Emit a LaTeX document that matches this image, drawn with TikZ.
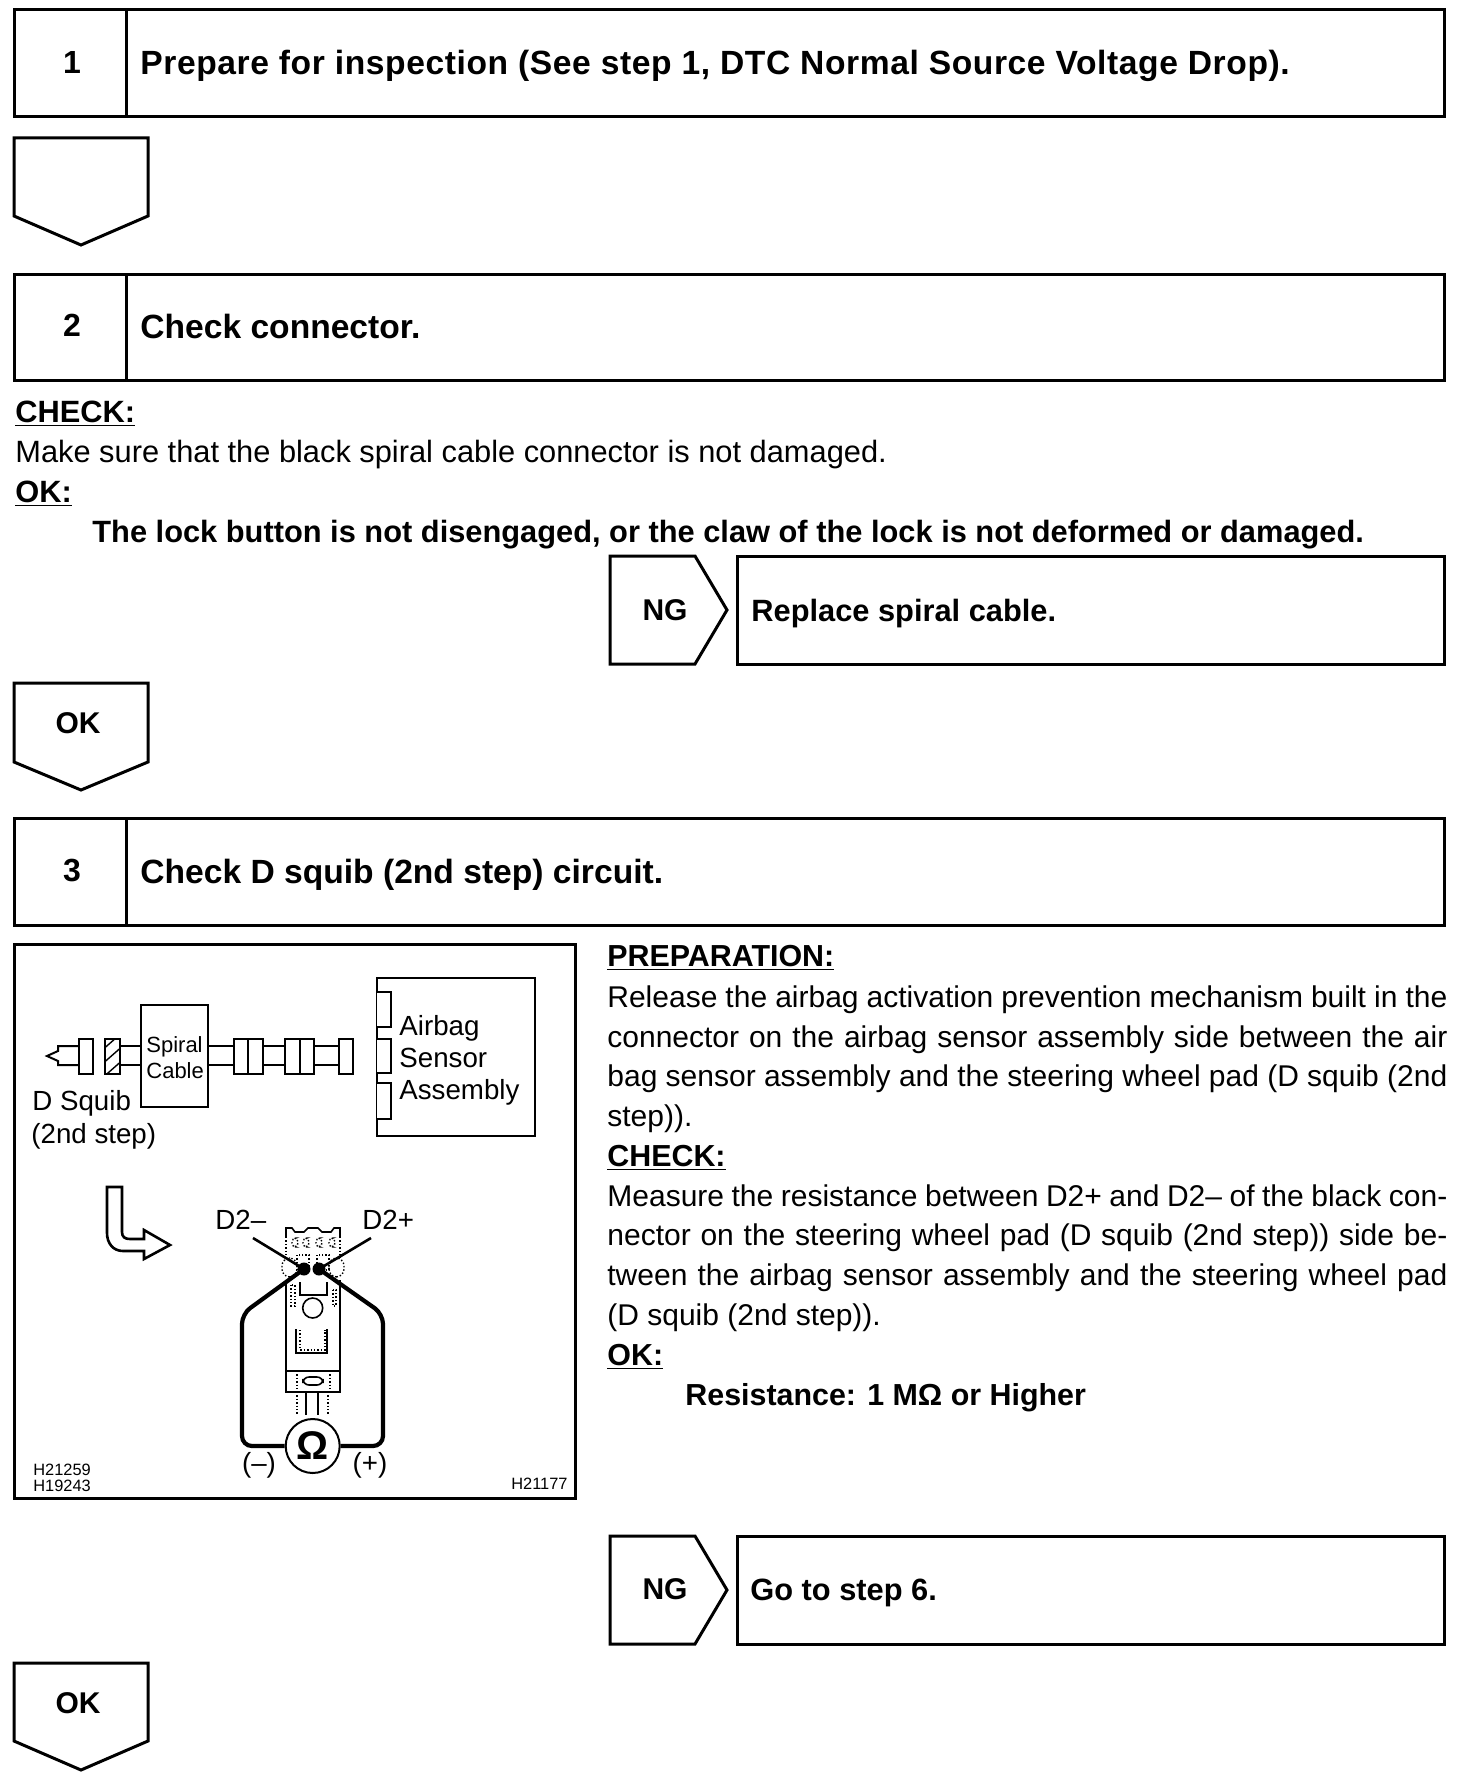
\documentclass[tikz,border=0pt]{standalone}
\usepackage{fontspec}
\setmainfont{Liberation Sans}
\tikzset{
 x=0.5pt,y=-0.5pt,
 frame/.style={draw=black,line width=1.5pt,fill=white,line join=miter},
 stepnum/.style={font=\fontsize{16}{18}\selectfont\bfseries,anchor=center},
 title/.style={font=\fontsize{16.8}{18}\selectfont\bfseries,anchor=base west,inner sep=0pt},
 sub/.style={font=\fontsize{15.4}{18}\selectfont\bfseries,anchor=base west,inner sep=0pt},
 flag/.style={font=\fontsize{15}{18}\selectfont\bfseries,anchor=center},
 bodyl/.style={font=\fontsize{15.4}{18}\selectfont,anchor=base west,inner sep=0pt},
 bodylb/.style={font=\fontsize{15.4}{18}\selectfont\bfseries,anchor=base west,inner sep=0pt},
 body/.style={font=\fontsize{15}{18}\selectfont,anchor=base west,inner sep=0pt},
 bodyb/.style={font=\fontsize{15.2}{18}\selectfont\bfseries,anchor=base west,inner sep=0pt},
 fig/.style={font=\fontsize{13.85}{16}\selectfont,anchor=west,inner sep=0pt},
 figs/.style={font=\fontsize{11}{13}\selectfont,anchor=west,inner sep=0pt},
 code/.style={font=\fontsize{8.2}{9}\selectfont,anchor=west,inner sep=0pt},
 part/.style={draw=black,line width=1pt,fill=white},
 wire/.style={draw=black,line width=1pt},
 lead/.style={draw=black,line width=1.3pt},
 probe/.style={draw=black,line width=2.1pt,rounded corners=5pt},
 dots/.style={draw=black,line width=0.7pt,densely dotted},
 thinpart/.style={draw=black,line width=0.8pt},
}
\newcommand{\ul}[1]{\underline{#1}}
\newcommand{\just}[1]{\hbox to 420pt{#1}}
\begin{document}
\begin{tikzpicture}
\useasboundingbox (0,0) rectangle (1456,1782);
\fill[white] (0,0) rectangle (1456,1782);
% step boxes
\draw[frame] (14,10) rectangle (1444,117);
\draw[frame] (126,10) -- (126,117);
\node[stepnum] (n1) at (72,62) {1};
\node[title] (t1) at (140,75) {\addfontfeature{LetterSpace=1.75}Prepare for inspection (See step 1, DTC Normal Source Voltage Drop).};
\draw[frame] (14,138) -- (148,138) -- (148,216) -- (81,245) -- (14,216) -- cycle;
\draw[frame] (14,274) rectangle (1444,380);
\draw[frame] (126,274) -- (126,380);
\node[stepnum] (n2) at (72,325) {2};
\node[title] (t2) at (140,338) {Check connector.};
\node[bodylb] (c1) at (15,422) {\ul{CHECK:}};
\node[bodyl] (c2) at (15,462) {Make sure that the black spiral cable connector is not damaged.};
\node[bodylb] (c3) at (15,502) {\ul{OK:}};
\node[bodylb] (c4) at (92,542) {The lock button is not disengaged, or the claw of the lock is not deformed or damaged.};
\draw[frame] (610,556) -- (695,556) -- (727,610) -- (695,664) -- (610,664) -- cycle;
\node[flag] (ng1) at (665,610) {NG};
\draw[frame] (737,556) rectangle (1444,664);
\node[sub] (r1) at (751,621) {Replace spiral cable.};
\draw[frame] (14,683) -- (148,683) -- (148,762) -- (81,790) -- (14,762) -- cycle;
\node[flag] (ok1) at (78,723) {OK};
\draw[frame] (14,818) rectangle (1444,925);
\draw[frame] (126,818) -- (126,925);
\node[stepnum] (n3) at (72,870) {3};
\node[title] (t3) at (140,883) {Check D squib (2nd step) circuit.};
% text
\node[bodyb] (p0) at (607,966) {\ul{PREPARATION:}};
\node[body] (p1) at (607,1007) {\just{Release the airbag activation prevention mechanism built in the}};
\node[body] (p2) at (607,1047) {\just{connector on the airbag sensor assembly side between the air}};
\node[body] (p3) at (607,1086) {\just{bag sensor assembly and the steering wheel pad (D squib (2nd}};
\node[body] (p4) at (607,1126) {step)).};
\node[bodyb] (p5) at (607,1166) {\ul{CHECK:}};
\node[body] (p6) at (607,1206) {\just{Measure the resistance between D2+ and D2– of the black con-}};
\node[body] (p7) at (607,1245) {\just{nector on the steering wheel pad (D squib (2nd step)) side be-}};
\node[body] (p8) at (607,1285) {\just{tween the airbag sensor assembly and the steering wheel pad}};
\node[body] (p9) at (607,1325) {(D squib (2nd step)).};
\node[bodyb] (p10) at (607,1365) {\ul{OK:}};
\node[bodyb] (p11) at (685,1405) {Resistance: 1 MΩ or Higher};
\draw[frame] (610,1536) -- (695,1536) -- (727,1590) -- (695,1644) -- (610,1644) -- cycle;
\node[flag] (ng2) at (665,1589) {NG};
\draw[frame] (737,1536) rectangle (1444,1644);
\node[sub] (r2) at (750,1600) {Go to step 6.};
\draw[frame] (14,1663) -- (148,1663) -- (148,1741) -- (81,1770) -- (14,1741) -- cycle;
\node[flag] (ok2) at (78,1703) {OK};
% figure frame
\draw[frame] (14,944) rectangle (575,1498);
% upper diagram
\draw[wire] (79,1046) -- (58,1046) -- (58,1051) -- (47,1056) -- (58,1061) -- (58,1065) -- (79,1065);
\draw[wire] (120,1046) -- (339,1046) (120,1065) -- (339,1065);
\draw[part] (79,1039) rectangle (93,1074);
\draw[part] (105,1039) rectangle (120,1074);
\begin{scope}
\clip (105,1039) rectangle (120,1074);
\draw[line width=0.7pt] (100,1052) -- (125,1030) (100,1066) -- (125,1044) (100,1080) -- (125,1058);
\end{scope}
\draw[part] (141,1005) rectangle (208,1107);
\draw[part] (234,1039) rectangle (263,1074);
\draw[part] (248,1039) -- (248,1074);
\draw[part] (285,1039) rectangle (314,1074);
\draw[part] (300,1039) -- (300,1074);
\draw[part] (339,1039) rectangle (353,1074);
\draw[part] (377,978) rectangle (535,1136);
\draw[part] (377,992) -- (391,992) -- (391,1027) -- (377,1027);
\draw[part] (377,1039) -- (391,1039) -- (391,1073) -- (377,1073);
\draw[part] (377,1083) -- (391,1083) -- (391,1119) -- (377,1119);
\node[figs] (s1) at (146,1047) {Spiral};
\node[figs] (s2) at (146,1071) {Cable};
\node[fig] (a1) at (399,1028) {Airbag};
\node[fig] (a2) at (399,1058) {Sensor};
\node[fig] (a3) at (399,1092) {Assembly};
\node[fig] (d1) at (32,1103) {D Squib};
\node[fig] (d2) at (31,1136) {(2nd step)};
% bent arrow
\draw[draw=black,line width=1.3pt,fill=white,line join=miter] (107,1187) -- (122,1187) -- (122,1232) .. controls (122,1237) and (125,1239) .. (130,1239) -- (144,1239) -- (144,1230) -- (170,1245) -- (144,1259) -- (144,1251) -- (123,1251) .. controls (113,1251) and (107,1243) .. (107,1233) -- cycle;
% labels
\node[fig] (d2m) at (215,1220) {D2–};
\node[fig] (d2p) at (362,1220) {D2+};
% connector body
\draw[thinpart] (286,1237) -- (286,1228) -- (292,1228) -- (295,1232) -- (304,1232) -- (308,1228) -- (318,1228) -- (322,1232) -- (331,1232) -- (334,1228) -- (340,1228) -- (340,1237);
\draw[thinpart] (286,1280) -- (286,1392) -- (340,1392) -- (340,1280);
\draw[dots] (286,1237) -- (286,1258) (340,1237) -- (340,1258);
\foreach \xx in {292,303,316,329} \draw[dots,rounded corners=2pt] (\xx,1238) rectangle ++(6,9);
\draw[dots,rounded corners=4pt] (282,1258) rectangle (297,1277);
\draw[dots,rounded corners=4pt] (329,1258) rectangle (344,1277);
\draw[dots] (297,1255) rectangle (309,1270);
\draw[dots] (317,1255) rectangle (329,1270);
\draw[thinpart] (300,1282) -- (300,1295) -- (327,1295) -- (327,1282);
\draw[dots] (291,1285) rectangle (295,1306);
\draw[dots] (333,1290) rectangle (336,1306);
\draw[thinpart] (312.7,1308) circle[radius=10];
\draw[dots] (300,1330) -- (300,1350) -- (325,1350) -- (325,1330);
\draw[thinpart] (296,1329) -- (296,1353) -- (327,1353) -- (327,1329);
\draw[thinpart] (286,1371) -- (340,1371);
\draw[thinpart,rounded corners=3pt] (303,1377) rectangle (323,1385);
\draw[dots] (297,1371) -- (297,1392) (330,1371) -- (330,1392);
\draw[dots] (297,1392) -- (297,1415);
\draw[thinpart] (306,1392) -- (306,1415) (318,1392) -- (318,1415);
\draw[dots] (328,1392) -- (328,1415);
% leads and probes
\coordinate (tm) at (304,1269);
\coordinate (tp) at (319,1269);
\fill[black] (tm) circle[radius=6.5];
\fill[black] (tp) circle[radius=6.5];
\draw[lead] (253,1238) -- (tm);
\draw[lead] (371,1238) -- (tp);
\node[draw=black,line width=1pt,fill=white,circle,minimum size=27pt,inner sep=0pt,font=\fontsize{20}{20}\selectfont\bfseries] (om) at (312.7,1446) {Ω};
\draw[probe] (tm) -- (242,1314) -- (242,1446) -- (om);
\draw[probe] (tp) -- (383,1314) -- (383,1446) -- (om);
\node[fig,anchor=center] (minus) at (259,1465) {(–)};
\node[fig,anchor=center] (plus) at (370,1465) {(+)};
% codes
\node[code] (h1) at (33,1470) {H21259};
\node[code] (h2) at (33,1486) {H19243};
\node[code,anchor=east] (h3) at (568,1484) {H21177};
\end{tikzpicture}
\end{document}
